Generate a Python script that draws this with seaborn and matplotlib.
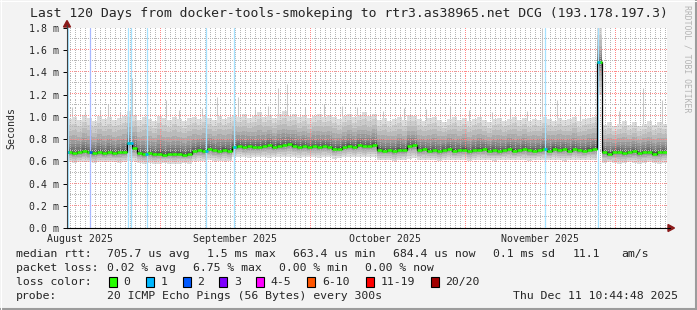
import datetime as dt
import numpy as np
import pandas as pd
import matplotlib
matplotlib.use("Agg")
import matplotlib.pyplot as plt
from matplotlib.lines import Line2D
from matplotlib.patches import Polygon, Rectangle
import seaborn as sns

# ---------------- data ----------------
title = "Last 120 Days from docker-tools-smokeping to rtr3.as38965.net DCG (193.178.197.3)"
end_time = dt.datetime(2025, 12, 11, 10, 44, 48)
n_days = 120

# daily median rtt (ms)
median_ms = [
    0.685, 0.675, 0.68, 0.69, 0.68, 0.675, 0.685, 0.675, 0.685, 0.675, 0.68, 0.685,
    0.765, 0.72,
    0.675, 0.665, 0.675, 0.665, 0.67, 0.66, 0.67, 0.665, 0.67, 0.66, 0.67,
    0.69, 0.70, 0.695, 0.71, 0.70, 0.69, 0.705, 0.695,
    0.73, 0.74, 0.725, 0.735, 0.73, 0.725, 0.74, 0.745, 0.73, 0.74,
    0.745, 0.755, 0.74, 0.73, 0.74, 0.725, 0.735, 0.73, 0.74, 0.73,
    0.71, 0.715, 0.73, 0.74, 0.73, 0.745, 0.735, 0.74, 0.75,
    0.705, 0.695, 0.70, 0.69, 0.705, 0.70,
    0.735, 0.745,
    0.70, 0.71, 0.695, 0.70, 0.69, 0.705, 0.71, 0.695, 0.70, 0.705, 0.69, 0.70,
    0.705, 0.71, 0.695, 0.70, 0.69, 0.70, 0.71, 0.695, 0.70, 0.71, 0.70, 0.695,
    0.70, 0.71, 0.695, 0.715, 0.70, 0.71, 0.695, 0.71, 0.70, 0.695, 0.705, 0.71,
    1.49,
    0.68, 0.67, 0.68, 0.685, 0.675, 0.68, 0.69, 0.675, 0.68, 0.685, 0.67, 0.68, 0.685,
]

# lowest ping of the smoke (ms)
smoke_low_ms = [
    0.59, 0.585, 0.59, 0.595, 0.59, 0.585, 0.59, 0.59, 0.595, 0.59, 0.585, 0.59,
    0.60, 0.60,
    0.585, 0.58, 0.585, 0.58, 0.58, 0.585, 0.58, 0.575, 0.58, 0.585, 0.58,
    0.60, 0.605, 0.60, 0.61, 0.605, 0.60, 0.605, 0.60,
    0.635, 0.64, 0.635, 0.63, 0.635, 0.64, 0.635, 0.63, 0.635, 0.64,
    0.635, 0.64, 0.635, 0.63, 0.635, 0.64, 0.635, 0.63, 0.635, 0.64,
    0.625, 0.63, 0.635, 0.64, 0.635, 0.64, 0.635, 0.64, 0.64,
    0.61, 0.615, 0.61, 0.605, 0.61, 0.615,
    0.625, 0.63,
    0.615, 0.61, 0.615, 0.61, 0.605, 0.61, 0.615, 0.61, 0.61, 0.615, 0.605, 0.61,
    0.615, 0.61, 0.61, 0.605, 0.61, 0.615, 0.61, 0.61, 0.615, 0.61, 0.605, 0.61,
    0.615, 0.61, 0.61, 0.615, 0.61, 0.605, 0.61, 0.615, 0.61, 0.61, 0.615, 0.61,
    1.20,
    0.585, 0.59, 0.585, 0.58, 0.585, 0.59, 0.585, 0.58, 0.585, 0.59, 0.585, 0.58, 0.585,
]

# highest ping of the smoke (ms)
smoke_top_ms = [
    0.98, 1.00, 0.97, 1.02, 0.99, 0.96, 1.01, 0.98, 1.00, 0.97, 0.99, 1.01,
    1.05, 1.02,
    0.97, 1.00, 0.98, 0.96, 1.01, 0.99, 0.97, 1.00, 0.98, 0.96, 0.99,
    1.00, 0.98, 1.02, 0.99, 0.97, 1.01, 0.98, 1.00,
    1.02, 1.00, 1.03, 0.99, 1.01, 1.04, 1.00, 1.02, 0.99, 1.03,
    1.05, 1.01, 1.03, 1.00, 1.02, 0.99, 1.01, 1.03, 1.00, 1.02,
    1.00, 0.98, 1.01, 1.03, 1.00, 1.02, 1.04, 1.01, 1.03,
    0.97, 0.99, 0.96, 0.98, 1.00, 0.97,
    1.02, 1.01,
    0.98, 0.96, 0.99, 1.00, 0.97, 0.95, 0.98, 1.00, 0.97, 0.99, 0.96, 0.98,
    1.00, 0.97, 0.95, 0.98, 0.99, 0.96, 0.98, 1.00, 0.97, 0.99, 0.96, 0.98,
    0.97, 1.00, 0.98, 0.96, 0.99, 0.97, 0.98, 1.00, 0.96, 0.98, 0.99, 1.00,
    1.80,
    0.93, 0.95, 0.92, 0.94, 0.96, 0.93, 0.95, 0.92, 0.94, 0.96, 0.93, 0.95, 0.94,
]

# isolated slow pings (day offset, ms)
spike_day = [1.0, 3.5, 6.5, 8.2, 10.5, 13.0, 16.0, 19.8, 22.4, 27.0,
             30.0, 34.2, 37.5, 40.1, 42.2, 44.0, 47.6, 51.3, 55.0, 58.0,
             63.2, 67.4, 71.8, 76.6, 80.3, 84.9, 88.6, 92.0, 95.0, 98.0,
             102.6, 110.4, 115.2, 119.0]
spike_top_ms = [1.09, 1.05, 1.06, 1.12, 1.04, 1.35, 1.33, 1.15, 1.06, 1.08,
                1.18, 1.18, 1.07, 1.10, 1.26, 1.30, 1.08, 1.12, 1.10, 1.09,
                1.05, 1.08, 1.07, 1.10, 1.06, 1.04, 1.08, 1.05, 1.80, 1.15,
                1.10, 1.05, 1.26, 1.15]

# packet-loss events (day offset, loss bucket index)
loss_day = [0.1, 4.6, 12.2, 12.8, 15.9, 27.8, 33.4, 95.6, 106.2]
loss_level = [1, 2, 1, 1, 1, 1, 1, 1, 1]

y_ticks_ms = [0.0, 0.2, 0.4, 0.6, 0.8, 1.0, 1.2, 1.4, 1.6, 1.8]
month_labels = ["August 2025", "September 2025", "October 2025", "November 2025"]
month_numbers = [8, 9, 10, 11]

legend_rtt = ["median rtt:", "705.7 us avg", "1.5 ms max", "663.4 us min",
              "684.4 us now", "0.1 ms sd", "11.1", "am/s"]
legend_loss = ["packet loss:", "0.02 % avg", "6.75 % max", "0.00 % min", "0.00 % now"]
loss_labels = ["0", "1", "2", "3", "4-5", "6-10", "11-19", "20/20"]
loss_colors = ["#26ff00", "#00b8ff", "#0059ff", "#7e00ff", "#ff00ff",
               "#ff5500", "#ff0000", "#a10000"]
probe_text = "20 ICMP Echo Pings (56 Bytes) every 300s"
stamp_text = "Thu Dec 11 10:44:48 2025"

# ---------------- layout ----------------
W, H = 697, 310
sns.set_style("white")
plt.rcParams["font.family"] = ["DejaVu Sans Mono"]

fig = plt.figure(figsize=(W / 100, H / 100), dpi=100, facecolor="#f3f3f3")


def fx(px):
    return px / W


def fy(py):
    return 1 - py / H


PL, PR, PT, PB = 67, 667, 28, 228
ax = fig.add_axes([fx(PL), fy(PB), fx(PR) - fx(PL), fy(PT) - fy(PB)])
ax.set_facecolor("white")
ax.set_xlim(0, n_days)
ax.set_ylim(0, 1.8)

start = end_time - dt.timedelta(days=n_days)


def day_of(t):
    return (t - start).total_seconds() / 86400.0


days = np.arange(n_days)
xs = np.append(days, n_days)


def ext(a):
    a = np.asarray(a, float)
    return np.append(a, a[-1])


med = ext(median_ms)
lo = ext(smoke_low_ms)
top = ext(smoke_top_ms)

# isolated slow pings under the smoke
med_at_spike = [median_ms[min(int(d), n_days - 1)] for d in spike_day]
ax.vlines(spike_day, med_at_spike, spike_top_ms, color="#c8c8c8", lw=0.75, zorder=1.5)

# smoke layers
N = 10
for k in range(N):
    f_lo = 1 - ((N - k) / N) ** 2.5
    f_hi = ((N - k) / N) ** 2
    lo_k = lo + (med - lo) * f_lo
    hi_k = med + (top - med) * f_hi
    g = int(round(0xdc - (0xdc - 0x46) * k / (N - 1)))
    ax.fill_between(xs, lo_k, hi_k, step="post", color=f"#{g:02x}{g:02x}{g:02x}",
                    lw=0, zorder=2, antialiased=False)

# grid drawn as single-pixel dots (every 2nd pixel) placed on pixel centres
minor_c = "#b6b6b6"
major_c = "#ff8888"
px_x = n_days / (PR - PL)          # data units per pixel, x
px_y = 1.8 / (PB - PT)             # data units per pixel, y
gx = (np.arange(0, PR - PL, 2) + 0.5) * px_x
gy = (np.arange(0, PB - PT, 2) + 0.5) * px_y


def snap_x(d):
    return (np.floor(d / px_x + 1e-6) + 0.5) * px_x


def snap_y(v):
    return (np.floor(v / px_y + 1e-6) + 0.5) * px_y


def hdots(v, c, z):
    ax.plot(gx, np.full_like(gx, snap_y(v)), ls="none", marker=",", color=c, zorder=z)


def vdots(d, c, z):
    ax.plot(np.full_like(gy, snap_x(d)), gy, ls="none", marker=",", color=c, zorder=z)


for v in np.arange(1, 18, 2) / 10:
    hdots(v, minor_c, 3)
for v in y_ticks_ms[1:]:
    hdots(v, major_c, 3.1)
first_midnight = dt.datetime(start.year, start.month, start.day) + dt.timedelta(days=1)
t = first_midnight
while t < end_time:
    if t.day != 1:
        vdots(day_of(t), minor_c, 3)
    else:
        vdots(day_of(t), major_c, 3.1)
    t += dt.timedelta(days=1)

# loss markers (full height)
pale = {1: "#a6e2ff", 2: "#a9b9ff"}
for d, lv in zip(loss_day, loss_level):
    ax.axvline(d, color=pale[lv], lw=0.9, zorder=3.5)

# median
sns.lineplot(x=xs, y=med, drawstyle="steps-post", color="black", lw=0.9,
             ax=ax, zorder=4, legend=False)
ax.hlines(median_ms, days, days + 1, color="#26ff00", lw=1.8, zorder=5)
for d, lv in zip(loss_day, loss_level):
    i = min(int(d), n_days - 1)
    ax.hlines(median_ms[i], d - 0.25, d + 0.35, color=loss_colors[lv], lw=1.8, zorder=6)

# ticks
ax.set_yticks(y_ticks_ms)
ax.set_yticklabels([f"{v:.1f} m" for v in y_ticks_ms])
ax.tick_params(axis="y", length=3, width=0.7, color="black", pad=3, labelsize=7.1,
               left=True)
ax.set_xticks([day_of(dt.datetime(2025, m, 16)) for m in month_numbers])
ax.set_xticklabels(month_labels)
ax.tick_params(axis="x", length=0, pad=4.5, labelsize=7.1)
ax.set_xlabel("")
ax.set_ylabel("")
for s in ["top", "right"]:
    ax.spines[s].set_visible(False)
ax.spines["left"].set_color("#404040")
ax.spines["left"].set_linewidth(0.8)
ax.spines["bottom"].set_color("black")
ax.spines["bottom"].set_linewidth(0.8)
ax.spines["left"].set_zorder(7)
ax.spines["bottom"].set_zorder(7)

# axis extensions and arrows
fig.add_artist(Line2D([fx(PR), fx(670)], [fy(PB), fy(PB)], color="black", lw=0.8))
fig.add_artist(Line2D([fx(PL), fx(PL)], [fy(PT), fy(25)], color="#404040", lw=0.8))
arrow_c = "#8b1a1a"
fig.add_artist(Polygon([[fx(63.5), fy(27)], [fx(70.5), fy(27)], [fx(67), fy(20.5)]],
                       closed=True, color=arrow_c, transform=fig.transFigure))
fig.add_artist(Polygon([[fx(668), fy(224.5)], [fx(668), fy(231.5)], [fx(674.5), fy(228)]],
                       closed=True, color=arrow_c, transform=fig.transFigure))

# texts
fig.text(0.5, fy(14), title, ha="center", va="center", fontsize=9.45)
fig.text(fx(11), fy(128), "Seconds", rotation=90, ha="center", va="center", fontsize=7.1)
fig.text(fx(687), fy(59), "RRDTOOL / TOBI OETIKER", rotation=270, ha="center",
         va="center", fontsize=5.9, color="#b4b4b4")

LF = 8.28
rtt_x = [16, 107, 207, 293, 393, 493, 573, 621]
for s, x in zip(legend_rtt, rtt_x):
    fig.text(fx(x), fy(254.3), s, ha="left", va="center", fontsize=LF)
loss_x = [16, 107, 193, 279, 365]
for s, x in zip(legend_loss, loss_x):
    fig.text(fx(x), fy(268.3), s, ha="left", va="center", fontsize=LF)
fig.text(fx(16), fy(282.3), "loss color:", ha="left", va="center", fontsize=LF)
box_x = [108.7, 145.7, 182.7, 219.3, 256, 307.3, 365.7, 430.7]
for lab, col, x in zip(loss_labels, loss_colors, box_x):
    fig.add_artist(Rectangle((fx(x), fy(287)), fx(8), 10 / H, facecolor=col,
                             edgecolor="black", lw=0.8, transform=fig.transFigure))
    fig.text(fx(x + 14.5), fy(282.3), lab, ha="left", va="center", fontsize=LF)
fig.text(fx(16), fy(296), "probe:", ha="left", va="center", fontsize=LF)
fig.text(fx(107), fy(296), probe_text, ha="left", va="center", fontsize=LF)
fig.text(fx(513.3), fy(296), stamp_text, ha="left", va="center", fontsize=LF)

# frame
fig.add_artist(Line2D([fx(696), fx(696)], [0, 1], color="#9c9c9c", lw=1.5))
fig.add_artist(Line2D([0, 1], [fy(309), fy(309)], color="#9c9c9c", lw=1.5))
fig.add_artist(Line2D([fx(0.5), fx(0.5)], [0, 1], color="#ffffff", lw=0.8))
fig.add_artist(Line2D([0, 1], [fy(0.5), fy(0.5)], color="#ffffff", lw=0.8))

fig.savefig("out.png", dpi=100, facecolor=fig.get_facecolor())
